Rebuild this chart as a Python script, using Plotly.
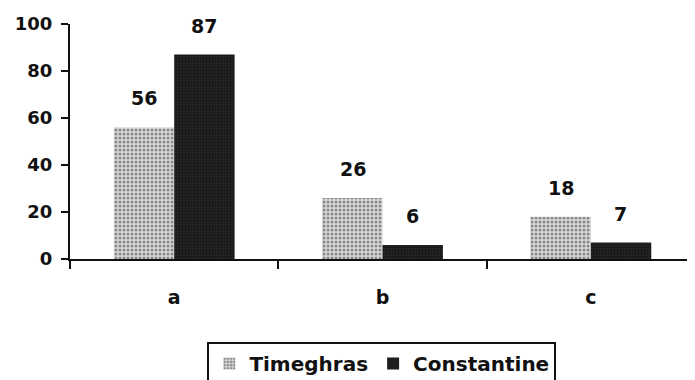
import plotly.graph_objects as go

categories = ["a", "b", "c"]
timeghras = [56, 26, 18]
constantine = [87, 6, 7]
y_ticks = [0, 20, 40, 60, 80, 100]

FONT = "DejaVu Sans, Liberation Sans, Arial, sans-serif"
INK = "#111111"
W, H = 687, 372  # page body has an 8px default margin

fig = go.Figure()
fig.add_trace(go.Bar(
    x=categories, y=timeghras, name="Timeghras",
    marker=dict(color="#d0d0d0", line=dict(width=0),
                pattern=dict(shape=".", fgcolor="#3a3a3a", bgcolor="#d8d8d8", size=4, solidity=0.45)),
))
fig.add_trace(go.Bar(
    x=categories, y=constantine, name="Constantine",
    marker=dict(color="#111111", line=dict(width=0),
                pattern=dict(shape=".", fgcolor="#000000", bgcolor="#2a2a2a", size=3, solidity=0.6)),
))

for i, c in enumerate(categories):
    for val, shift in ((timeghras[i], -30), (constantine[i], 30)):
        fig.add_annotation(x=c, y=val, xshift=shift, yshift=29, text=str(val),
                           showarrow=False, yanchor="middle",
                           font=dict(family=FONT, size=19, color=INK, weight="bold"))

fig.update_layout(
    width=W, height=H,
    margin=dict(l=62, r=0, t=16, b=121, autoexpand=False),
    paper_bgcolor="white", plot_bgcolor="white",
    barmode="group", bargap=0.42, bargroupgap=0,
    font=dict(family=FONT, size=18, color=INK, weight="bold"),
    showlegend=True,
    legend=dict(orientation="h", x=0.499, xanchor="center",
                yref="container", y=(H - 334) / H, yanchor="top",
                bordercolor=INK, borderwidth=2, bgcolor="white",
                font=dict(family=FONT, size=20, color=INK, weight="bold"),
                itemwidth=30, tracegroupgap=0),
    xaxis=dict(showline=True, linecolor=INK, linewidth=2, ticks="outside",
               tickson="boundaries", ticklen=8, tickwidth=2, tickcolor=INK,
               ticklabelstandoff=20, showgrid=False, zeroline=False, automargin=False,
               tickfont=dict(family=FONT, size=19, color=INK, weight="bold")),
    yaxis=dict(range=[0, 100], tickvals=y_ticks, showline=True, linecolor=INK,
               linewidth=2, ticks="outside", ticklen=7, tickwidth=2, tickcolor=INK,
               showgrid=False, zeroline=False, ticklabelstandoff=5, automargin=False,
               tickfont=dict(family=FONT, size=18, color=INK, weight="bold")),
)

fig.write_html("out.html")
